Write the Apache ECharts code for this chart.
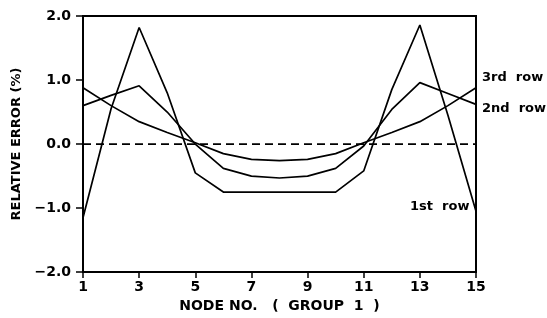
<!DOCTYPE html>
<html>
<head>
<meta charset="utf-8">
<script src="https://cdn.jsdelivr.net/npm/echarts@6/dist/echarts.min.js"></script>
<style>
html, body { margin: 0; padding: 0; background: #fff; }
#chart { width: 547px; height: 318px; }
</style>
</head>
<body>
<div id="chart"></div>
<script>
// node numbers along group 1
var nodes = [1, 2, 3, 4, 5, 6, 7, 8, 9, 10, 11, 12, 13, 14, 15];
// relative error (%) for each row
var row1 = [-1.15, 0.55, 1.82, 0.8, -0.45, -0.75, -0.75, -0.75, -0.75, -0.75, -0.42, 0.85, 1.86, 0.45, -1.05];
var row2 = [0.6, 0.76, 0.91, 0.5, 0.0, -0.38, -0.5, -0.53, -0.5, -0.38, -0.03, 0.54, 0.96, 0.79, 0.62];
var row3 = [0.88, 0.6, 0.35, 0.18, 0.02, -0.15, -0.24, -0.26, -0.24, -0.15, 0.02, 0.18, 0.35, 0.6, 0.88];
var zeroX = [1, 15];
var zeroY = [0, 0];
var yTicks = {'2': '2.0', '1': '1.0', '0': '0.0', '-1': '\u22121.0', '-2': '\u22122.0'};

function pairs(xs, ys) {
	var out = [];
	for (var i = 0; i < xs.length; i++) {
		out.push([xs[i], ys[i]]);
	}
	return out;
}

var font = 'DejaVu Sans';
var myChart = echarts.init(document.getElementById('chart'));

var lineStyle = { color: '#000', width: 1.7 };

var option = {
	animation: false,
	grid: {
		left: 83,
		right: 71,
		top: 16,
		bottom: 44,
		show: true,
		borderColor: '#000',
		borderWidth: 2
	},
	xAxis: {
		type: 'value',
		min: 1,
		max: 15,
		interval: 2,
		name: 'NODE NO.   (  GROUP  1  )',
		nameLocation: 'middle',
		nameGap: 23,
		nameTextStyle: { color: '#000', fontFamily: font, fontWeight: 'bold', fontSize: 14 },
		axisLine: { onZero: false, lineStyle: { color: '#000', width: 2 } },
		axisTick: { show: true, inside: false, length: 6, lineStyle: { color: '#000', width: 1.5 } },
		axisLabel: { color: '#000', fontFamily: font, fontWeight: 'bold', fontSize: 14, margin: 8 },
		splitLine: { show: false }
	},
	yAxis: {
		type: 'value',
		min: -2,
		max: 2,
		interval: 1,
		name: 'RELATIVE ERROR (%)',
		nameLocation: 'middle',
		nameGap: 52,
		nameTextStyle: { color: '#000', fontFamily: font, fontWeight: 'bold', fontSize: 13 },
		axisLine: { onZero: false, lineStyle: { color: '#000', width: 2 } },
		axisTick: { show: true, inside: false, length: 7, lineStyle: { color: '#000', width: 1.5 } },
		axisLabel: {
			color: '#000', fontFamily: font, fontWeight: 'bold', fontSize: 14, margin: 12,
			formatter: function(v) { return yTicks[String(v)]; }
		},
		splitLine: { show: false }
	},
	series: [
		{ name: '1st row', type: 'line', data: pairs(nodes, row1), symbol: 'none', lineStyle: lineStyle },
		{ name: '2nd row', type: 'line', data: pairs(nodes, row2), symbol: 'none', lineStyle: lineStyle },
		{ name: '3rd row', type: 'line', data: pairs(nodes, row3), symbol: 'none', lineStyle: lineStyle },
		{
			name: 'zero', type: 'line', data: pairs(zeroX, zeroY), symbol: 'none',
			lineStyle: { color: '#000', width: 1.7, type: [8, 5] }
		}
	],
	graphic: [
		{ type: 'text', left: 482, top: 71, style: { text: '3rd  row', fill: '#000', font: 'bold 13px ' + font } },
		{ type: 'text', left: 482, top: 102, style: { text: '2nd  row', fill: '#000', font: 'bold 13px ' + font } },
		{ type: 'text', left: 410, top: 200, style: { text: '1st  row', fill: '#000', font: 'bold 13px ' + font } }
	]
};
myChart.setOption(option);
</script>
</body>
</html>
